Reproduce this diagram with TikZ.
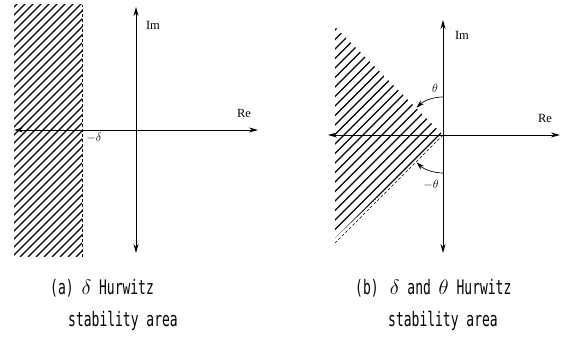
\documentclass[tikz,border=0pt]{standalone}
\usepackage{amsmath, amssymb}
\usepackage{fontspec}
\usepackage{tikz}
\usetikzlibrary{arrows.meta, calc}
\newfontfamily\capfont[FakeStretch=0.65]{DejaVu Sans Mono}
\newfontfamily\axfont{Liberation Serif}

\tikzset{
  axis/.style={line width=0.9pt, {Stealth[length=9pt,width=5pt]}-{Stealth[length=9pt,width=5pt]}},
  hatch/.style={line width=1.2pt},
  border/.style={line width=0.5pt, dashed, dash pattern=on 3pt off 2pt},
  anglearc/.style={line width=0.7pt, -{Stealth[length=8pt,width=5pt]}},
  axlabel/.style={font=\axfont\fontsize{12.5}{14}\selectfont},
  caption/.style={font=\capfont\fontsize{20}{22}\selectfont, anchor=base west, inner sep=0pt}
}

\begin{document}
\begin{tikzpicture}[x=1pt, y=1pt]
  \useasboundingbox (0,0) rectangle (576,342);

  % (a) delta Hurwitz
  \coordinate (Oa) at (136,212);
  \coordinate (ta) at (136,335);
  \coordinate (ba) at (136,89);
  \coordinate (la) at (14,212);
  \coordinate (ra) at (258,212);
  \begin{scope}
    \clip (14,85) rectangle (82,337);
    \foreach \s in {-260,-252,...,90}
      \draw[hatch] (\s,85) -- ++(260,260);
  \end{scope}
  \draw[border] (82,85) -- (82,337);
  \draw[axis] (la) -- (ra);
  \draw[axis] (ba) -- (ta);
  \node[axlabel] (ima) at (153,317) {Im};
  \node[axlabel] (rea) at (244,229) {Re};
  \node[font=\fontsize{12}{13}\selectfont] (da) at (94,204) {$-\delta$};

  % (b) delta and theta Hurwitz
  \coordinate (Ob) at (443,207);
  \coordinate (tb) at (443,322);
  \coordinate (bb) at (443,89);
  \coordinate (lb) at (328,207);
  \coordinate (rb) at (560,207);
  \coordinate (up) at (335,315);
  \coordinate (lo) at (335,99);
  \begin{scope}
    \clip (up) -- (Ob) -- (335,104) -- cycle;
    \foreach \s in {-110,-100.5,...,450}
      \draw[hatch] (\s,95) -- ++(230,230);
  \end{scope}
  \draw[border] (Ob) -- (lo);
  \draw[axis] (lb) -- (rb);
  \draw[axis] (bb) -- (tb);
  \draw[anglearc] ($(Ob)+(90:38)$) arc[start angle=90, end angle=134, radius=38];
  \draw[anglearc] ($(Ob)+(270:38)$) arc[start angle=270, end angle=226, radius=38];
  \node[axlabel] (imb) at (462,307) {Im};
  \node[axlabel] (reb) at (545,224) {Re};
  \node[font=\fontsize{12}{13}\selectfont] (th) at (435,254) {$\theta$};
  \node[font=\fontsize{12}{13}\selectfont] (mth) at (431,157) {$-\theta$};

  % captions
  \node[caption] (capa1) at (50,47) {(a) $\delta$ Hurwitz};
  \node[caption] (capa2) at (68,15) {stability area};
  \node[caption] (capb1) at (355,47) {(b) \,$\delta$ and $\theta$ Hurwitz};
  \node[caption] (capb2) at (388,15) {stability area};
\end{tikzpicture}
\end{document}
